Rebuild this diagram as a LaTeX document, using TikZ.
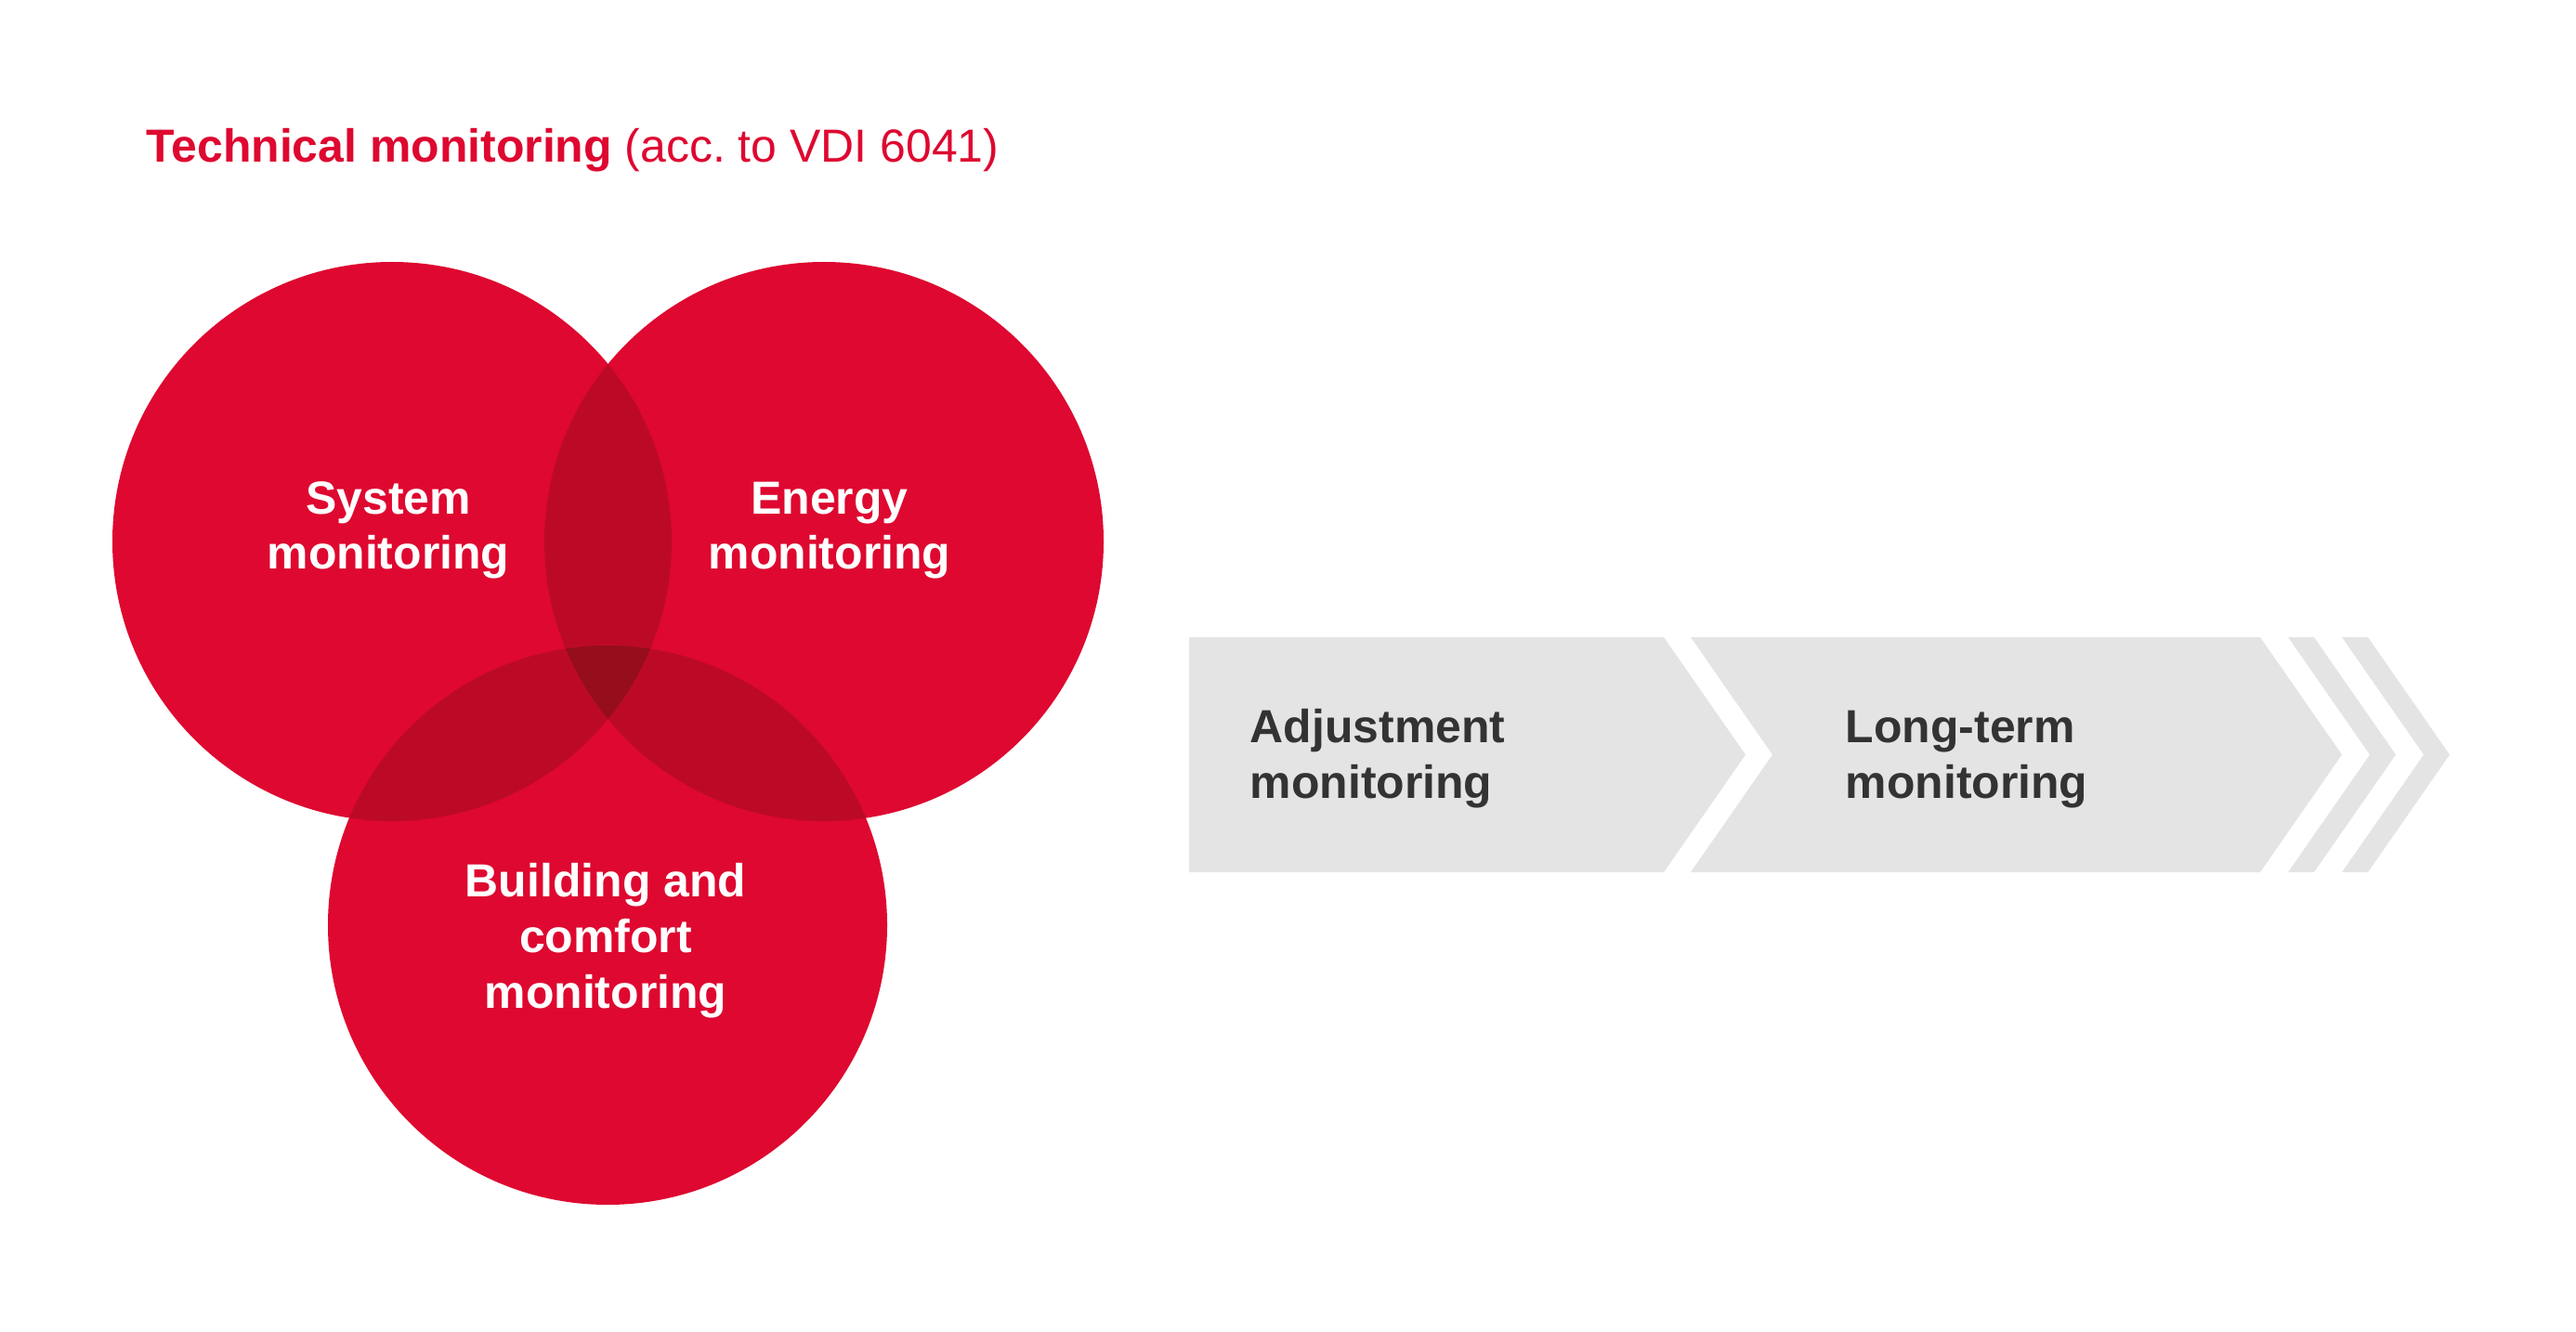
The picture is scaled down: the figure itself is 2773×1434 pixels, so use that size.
\documentclass[tikz,border=0pt]{standalone}
\usepackage{fontspec}
\setmainfont{Liberation Sans}
\usepackage{tikz}
\usetikzlibrary{positioning,calc}
\usepackage{xcolor}
\definecolor{vennred}{RGB}{222,8,48}
\definecolor{venndark}{RGB}{188,10,38}
\definecolor{venndeep}{RGB}{150,13,28}
\definecolor{chevgray}{RGB}{228,228,228}
\definecolor{textgray}{RGB}{51,51,51}

\begin{document}
\begin{tikzpicture}[
    x=0.01cm, y=-0.01cm,
    every node/.style={inner sep=0pt, font=\fontsize{14.2}{17}\selectfont},
    ringlabel/.style={text=white, font=\fontsize{14.2}{17}\selectfont\bfseries, align=center, anchor=base},
    steplabel/.style={text=textgray, font=\fontsize{14.2}{17}\selectfont\bfseries, align=left, anchor=base west},
    chevron/.style={fill=chevgray}
]
\useasboundingbox (0,0) rectangle (2773,1434);
\coordinate (csys) at (422,583);
\coordinate (cenergy) at (887,583);
\coordinate (cbuild) at (654,996);
\fill[vennred] (csys) circle [radius=301];
\fill[vennred] (cenergy) circle [radius=301];
\fill[vennred] (cbuild) circle [radius=301];
\begin{scope}
    \clip (csys) circle [radius=301];
    \fill[venndark] (cenergy) circle [radius=301];
    \fill[venndark] (cbuild) circle [radius=301];
\end{scope}
\begin{scope}
    \clip (cenergy) circle [radius=301];
    \fill[venndark] (cbuild) circle [radius=301];
\end{scope}
\begin{scope}
    \clip (csys) circle [radius=301];
    \clip (cenergy) circle [radius=301];
    \fill[venndeep] (cbuild) circle [radius=301];
\end{scope}
\node[anchor=base west, text=vennred] (title) at (157,175)
    {\bfseries Technical monitoring \mdseries(acc.\ to VDI 6041)};
\node[ringlabel] (system) at (418,613) {System\\monitoring};
\node[ringlabel] (energy) at (893,613) {Energy\\monitoring};
\node[ringlabel] (building) at (652,1085) {Building and\\comfort\\monitoring};
\fill[chevron] (1280,686) -- (1791,686) -- (1879,812.5) -- (1791,939) -- (1280,939) -- cycle;
\fill[chevron] (1820,686) -- (2433,686) -- (2521,812.5) -- (2433,939) -- (1820,939) -- (1908,812.5) -- cycle;
\foreach \x in {2463,2521}
    \fill[chevron] (\x,686) -- ++(28,0) -- ++(88,126.5) -- ++(-88,126.5) -- ++(-28,0) -- ++(88,-126.5) -- cycle;
\node[steplabel] (adjust) at (1345,859) {Adjustment\\monitoring};
\node[steplabel] (longterm) at (1986,859) {Long-term\\monitoring};
\end{tikzpicture}
\end{document}
